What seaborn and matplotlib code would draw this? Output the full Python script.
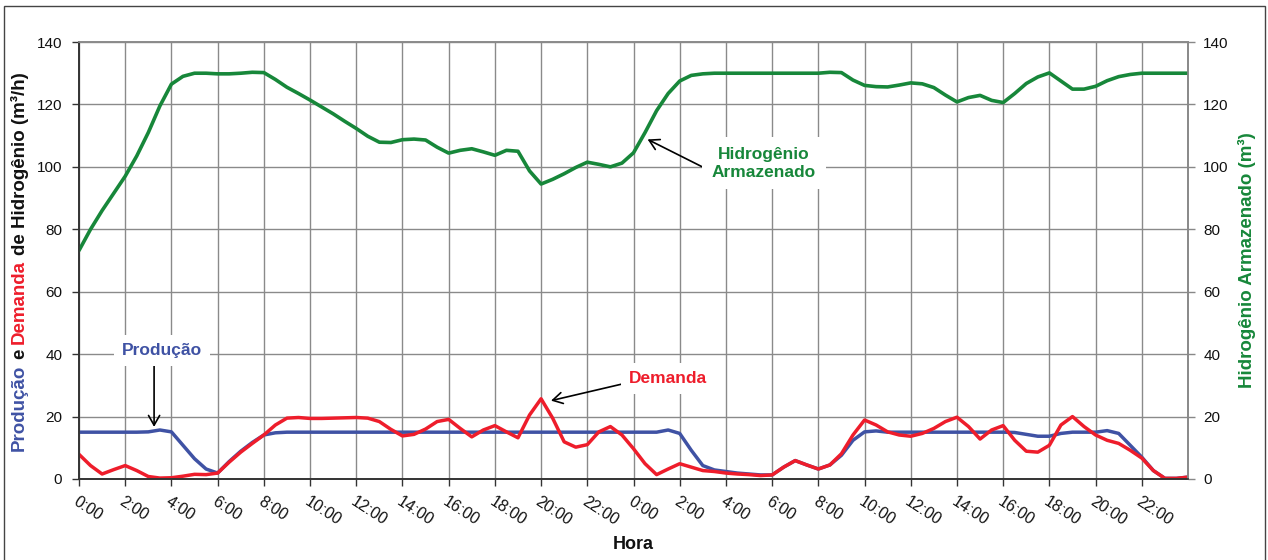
import matplotlib
matplotlib.use("Agg")
import matplotlib.pyplot as plt
from matplotlib.patches import Rectangle
import numpy as np
import pandas as pd
import seaborn as sns

# half-hour readings over two days
hours = np.arange(0, 48.5, 0.5)

producao = [
    15.0, 15.0, 15.0, 15.0, 15.0, 15.0, 15.1, 15.7, 15.1, 10.8,
    6.5, 3.2, 1.9, 5.6, 8.9, 11.7, 14.1, 14.8, 15.0, 15.0,
    15.0, 15.0, 15.0, 15.0, 15.0, 15.0, 15.0, 15.0, 15.0, 15.0,
    15.0, 15.0, 15.0, 15.0, 15.0, 15.0, 15.0, 15.0, 15.0, 15.0,
    15.0, 15.0, 15.0, 15.0, 15.0, 15.0, 15.0, 15.0, 15.0, 15.0,
    15.0, 15.7, 14.6, 9.2, 4.3, 2.9, 2.4, 1.9, 1.6, 1.3,
    1.3, 3.8, 5.9, 4.5, 3.2, 4.5, 7.6, 12.4, 15.1, 15.4,
    15.0, 15.0, 15.0, 15.0, 15.0, 15.0, 15.0, 15.0, 15.0, 15.0,
    15.0, 14.9, 14.3, 13.7, 13.7, 14.6, 15.0, 15.0, 15.0, 15.5,
    14.6, 10.8, 7.0, 2.7, 0.2, 0.2, 0.6,
]

demanda = [
    7.9, 4.3, 1.6, 3.0, 4.3, 2.7, 0.8, 0.3, 0.4, 0.9,
    1.5, 1.4, 1.9, 5.4, 8.6, 11.4, 14.1, 17.3, 19.5, 19.7,
    19.4, 19.4, 19.5, 19.6, 19.7, 19.5, 18.4, 15.9, 13.8, 14.3,
    16.0, 18.4, 19.1, 16.2, 13.5, 15.7, 17.1, 15.1, 13.2, 20.5,
    25.7, 19.5, 11.9, 10.2, 11.0, 15.1, 16.8, 14.1, 9.7, 4.9,
    1.4, 3.2, 4.9, 3.8, 2.7, 2.4, 1.9, 1.6, 1.4, 1.1,
    1.3, 3.8, 5.9, 4.5, 3.2, 4.5, 8.1, 14.1, 18.9, 17.3,
    15.1, 14.1, 13.7, 14.6, 16.2, 18.4, 19.8, 16.8, 12.8, 15.7,
    17.1, 12.4, 8.9, 8.6, 10.8, 17.3, 20.0, 16.8, 14.1, 12.4,
    11.4, 9.2, 6.7, 2.7, 0.2, 0.2, 0.6,
]

armazenado = [
    73.2, 80.0, 86.0, 91.5, 97.0, 103.5, 111.0, 119.5, 126.5, 129.0,
    130.0, 130.0, 129.8, 129.8, 130.0, 130.3, 130.2, 128.0, 125.5, 123.5,
    121.4, 119.2, 117.0, 114.6, 112.3, 109.8, 107.9, 107.8, 108.7, 108.9,
    108.6, 106.3, 104.4, 105.3, 105.8, 104.8, 103.7, 105.3, 105.0, 98.7,
    94.5, 96.0, 97.8, 99.8, 101.5, 100.8, 100.0, 101.2, 104.5, 111.0,
    118.0, 123.5, 127.5, 129.3, 129.8, 130.0, 130.0, 130.0, 130.0, 130.0,
    130.0, 130.0, 130.0, 130.0, 130.0, 130.3, 130.2, 127.8, 126.1, 125.7,
    125.6, 126.2, 126.9, 126.6, 125.4, 123.0, 120.8, 122.2, 122.9, 121.3,
    120.6, 123.5, 126.7, 128.8, 130.1, 127.5, 124.9, 124.9, 125.8, 127.6,
    128.9, 129.6, 130.0, 130.0, 130.0, 130.0, 130.0,
]

tick_hours = list(range(0, 48, 2))
tick_labels = ["0:00", "2:00", "4:00", "6:00", "8:00", "10:00", "12:00", "14:00",
               "16:00", "18:00", "20:00", "22:00", "0:00", "2:00", "4:00", "6:00",
               "8:00", "10:00", "12:00", "14:00", "16:00", "18:00", "20:00", "22:00"]
y_ticks = [0, 20, 40, 60, 80, 100, 120, 140]

BLUE, RED, GREEN = "#3F52A4", "#EE1D2B", "#17873A"
W, H = 1268, 560

sns.set_style("white")
plt.rcParams["font.family"] = ["Liberation Sans", "DejaVu Sans"]

df = pd.DataFrame({"hora": hours, "producao": producao, "demanda": demanda,
                   "armazenado": armazenado})

fig = plt.figure(figsize=(W / 100, H / 100), dpi=100)
ax = fig.add_axes([79 / W, 1 - 479 / H, (1188 - 79) / W, (479 - 42) / H])
ax2 = ax.twinx()

line_kw = dict(solid_joinstyle="round", solid_capstyle="round")
sns.lineplot(data=df, x="hora", y="producao", ax=ax, color=BLUE, lw=2.5, **line_kw)
sns.lineplot(data=df, x="hora", y="demanda", ax=ax, color=RED, lw=2.5, **line_kw)
sns.lineplot(data=df, x="hora", y="armazenado", ax=ax2, color=GREEN, lw=2.6, **line_kw)

for a in (ax, ax2):
    a.set_xlim(0, 48)
    a.set_ylim(0, 140)
    a.set_yticks(y_ticks)
    a.set_ylabel("")
ax.set_xticks(tick_hours)
ax.set_xticklabels(tick_labels, rotation=-33, ha="left", va="top",
                   rotation_mode="anchor", fontsize=11.5, color="#111")
ax.grid(True, color="#8a8a8a", lw=1)
ax.set_axisbelow(True)

ax.tick_params(axis="x", direction="out", length=5, width=1, color="#333", pad=6, bottom=True)
ax.tick_params(axis="y", direction="out", length=5, width=1, color="#333", pad=7,
               labelsize=11, labelcolor="#111", left=True)
ax2.tick_params(axis="y", direction="out", length=5, width=1, color="#888", pad=6,
                labelsize=11, labelcolor="#111", right=True)

for a in (ax, ax2):
    a.spines["left"].set_color("#333")
    a.spines["bottom"].set_color("#333")
    a.spines["right"].set_color("#888")
    a.spines["top"].set_color("#8a8a8a")
    for s in a.spines.values():
        s.set_linewidth(1.2)

ax.set_xlabel("Hora", fontsize=13, fontweight="bold", color="#111")
ax.xaxis.set_label_coords(0.5, -0.13)
ax2.set_ylabel("Hidrogênio Armazenado (m³)", fontsize=13.5, fontweight="bold",
               color=GREEN, ha="center", va="center")
ax2.yaxis.set_label_coords((1247 - 79) / (1188 - 79), 0.5)

# multi-coloured left label, stacked bottom to top
pieces = [("Produção", BLUE), ("e", "#111"), ("Demanda", RED), ("de Hidrogênio (m³/h)", "#111")]
renderer = fig.canvas.get_renderer()
texts = [fig.text(0, 0, s, rotation=90, color=c, fontsize=13.5, fontweight="bold",
                  ha="center", va="bottom") for s, c in pieces]
sizes = [t.get_window_extent(renderer).height for t in texts]
gap = 5
total = sum(sizes) + gap * (len(sizes) - 1)
y0 = (H - 261.5) - total / 2
for t, h in zip(texts, sizes):
    t.set_position((19.5 / W, y0 / H))
    y0 += h + gap

arrow = dict(arrowstyle="->,head_length=0.7,head_width=0.4", color="black", lw=1.2,
             shrinkA=0, shrinkB=0)
box = dict(boxstyle="square,pad=0.45", fc="white", ec="none")

ax2.annotate("", xy=(3.25, 16.7), xytext=(3.25, 37.2), arrowprops=arrow)
ax2.text(3.6, 41.1, "Produção", color=BLUE, fontsize=12.5, fontweight="bold",
         ha="center", va="center", bbox=box)

ax2.annotate("", xy=(20.43, 25.1), xytext=(23.55, 30.5), arrowprops=arrow)
ax2.text(25.5, 32.1, "Demanda", color=RED, fontsize=12.5, fontweight="bold",
         ha="center", va="center", bbox=box)

ax2.annotate("", xy=(24.61, 108.8), xytext=(26.95, 100.1), arrowprops=arrow)
ax2.text(29.65, 101.2, "Hidrogênio\nArmazenado", color=GREEN, fontsize=12.5,
         fontweight="bold", ha="center", va="center", linespacing=1.25,
         bbox=dict(boxstyle="square,pad=0.55", fc="white", ec="none"))

fig.add_artist(Rectangle((4 / W, -0.02), 1261 / W, 1.02 - 6 / H, transform=fig.transFigure,
                         fill=False, ec="#444", lw=1))

fig.savefig("out.png", dpi=100)
